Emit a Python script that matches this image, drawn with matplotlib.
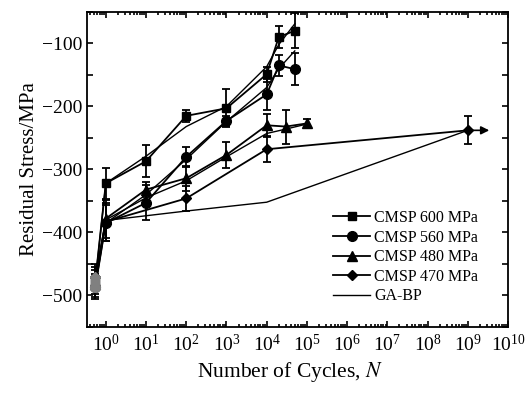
import numpy as np
import matplotlib
matplotlib.use("Agg")
import matplotlib.pyplot as plt
from matplotlib.lines import Line2D
from matplotlib.ticker import LogLocator, MultipleLocator, NullFormatter

plt.rcParams["font.family"] = ["Liberation Serif", "DejaVu Serif"]
plt.rcParams["mathtext.fontset"] = "stix"

# ---------------- measured data (N, stress, error) ----------------
n_600 = [0.55, 1, 10, 100, 1000, 1e4, 2e4, 5e4]
s_600 = [-476, -322, -287, -215, -203, -149, -90, -80]
e_600 = [22, 25, 25, 10, 30, 12, 18, 28]

n_560 = [0.55, 1, 10, 100, 1000, 1e4, 2e4, 5e4]
s_560 = [-486, -385, -353, -280, -223, -181, -135, -141]
e_560 = [20, 28, 28, 16, 8, 25, 17, 25]

n_480 = [0.55, 1, 10, 100, 1000, 1e4, 3e4, 1e5]
s_480 = [-481, -378, -332, -314, -277, -230, -232, -227]
e_480 = [22, 30, 12, 20, 21, 18, 27, 7]

n_470 = [0.55, 1, 100, 1e4, 1e9]
s_470 = [-470, -383, -346, -268, -238]
e_470 = [20, 30, 20, 21, 22]

# ---------------- GA-BP predictions ----------------
ga_n_600 = [0.55, 1, 10, 100, 1000, 1e4, 2e4, 5e4]
ga_s_600 = [-476, -322, -279, -232, -200, -137, -102, -69]
ga_n_560 = [0.55, 1, 10, 100, 1000, 1e4, 2e4, 5e4]
ga_s_560 = [-486, -385, -340, -284, -224, -170, -140, -112]
ga_n_480 = [0.55, 1, 10, 100, 1000, 1e4, 3e4, 1e5]
ga_s_480 = [-481, -380, -345, -318, -280, -243, -236, -228]
ga_n_470 = [0.55, 1, 100, 1e4, 1e9]
ga_s_470 = [-470, -381, -366, -352, -238]

series = [
    (n_600, s_600, e_600, "s", 6, "CMSP 600 MPa"),
    (n_560, s_560, e_560, "o", 7, "CMSP 560 MPa"),
    (n_480, s_480, e_480, "^", 6.5, "CMSP 480 MPa"),
    (n_470, s_470, e_470, "D", 5, "CMSP 470 MPa"),
]
ga_lines = [(ga_n_600, ga_s_600), (ga_n_560, ga_s_560),
            (ga_n_480, ga_s_480), (ga_n_470, ga_s_470)]

fig = plt.figure(figsize=(5.27, 3.94), dpi=100)
ax = fig.add_axes([0.165, 0.170, 0.799, 0.800])

handles = []
for n, s, e, m, ms, lab in series:
    ax.errorbar(n, s, yerr=e, fmt="-", marker=m, ms=ms, color="black",
                lw=1.3, elinewidth=1.3, capsize=3, capthick=1.3)
    ax.plot(n[0], s[0], marker=m, ms=ms, color="0.5", ls="none", zorder=5)
    handles.append(Line2D([], [], color="black", lw=1.3, marker=m, ms=ms, label=lab))

for n, s in ga_lines:
    ax.plot(n, s, color="black", lw=1.0)
handles.append(Line2D([], [], color="black", lw=1.0, label="GA-BP"))

# arrow at the long-life point
ax.annotate("", xy=(4e9, s_470[-1]), xytext=(n_470[-1], s_470[-1]),
            arrowprops=dict(arrowstyle="-|>", color="black", lw=1.2,
                            mutation_scale=12))

ax.set_xscale("log")
ax.set_xlim(0.34, 1e10)
ax.set_ylim(-550, -50)
ax.xaxis.set_major_locator(LogLocator(base=10, numticks=20))
ax.xaxis.set_minor_locator(LogLocator(base=10, subs=np.arange(2, 10), numticks=40))
ax.xaxis.set_minor_formatter(NullFormatter())
ax.yaxis.set_major_locator(MultipleLocator(100))
ax.yaxis.set_minor_locator(MultipleLocator(50))

ax.tick_params(which="both", direction="in", top=True, right=True, width=1.2)
ax.tick_params(axis="y", labelsize=14)
ax.tick_params(axis="x", labelsize=14, pad=5)
ax.tick_params(which="major", length=4)
ax.tick_params(axis="y", which="minor", length=4)
ax.tick_params(axis="x", which="minor", length=2.5)
for sp in ax.spines.values():
    sp.set_linewidth(1.3)

ax.set_xlabel("Number of Cycles, $N$", fontsize=15.5)
ax.xaxis.set_label_coords(0.482, -0.105)
ax.set_ylabel("Residual Stress/MPa", fontsize=15, labelpad=2)

ax.legend(handles=handles, loc="upper left", bbox_to_anchor=(0.585, 0.371),
          frameon=False, fontsize=11.5, handlelength=2.3, handletextpad=0.25,
          labelspacing=0.22, borderaxespad=0, borderpad=0)

fig.savefig("out.png", dpi=100)
